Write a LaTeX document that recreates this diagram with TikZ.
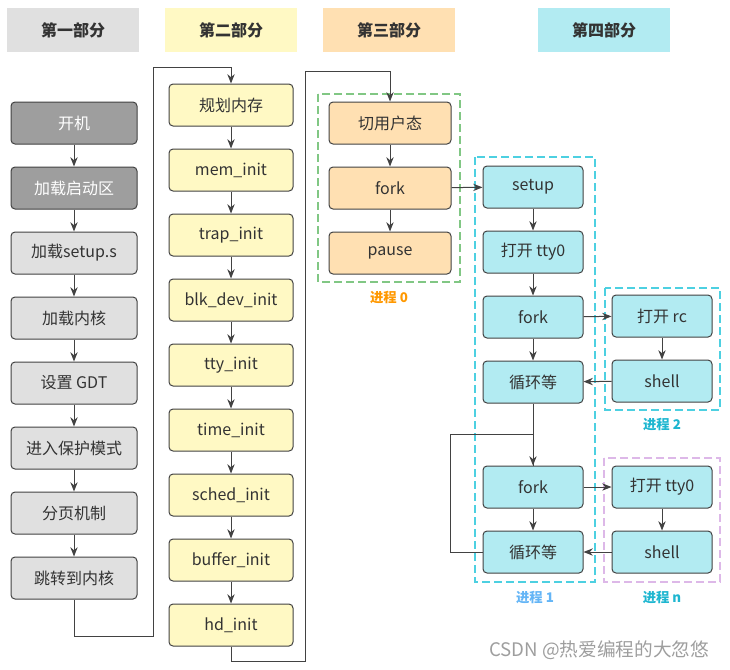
\documentclass[tikz,border=0pt]{standalone}
\usepackage{fontspec}
\setmainfont{Noto Sans CJK SC}
\usepackage{xcolor}
\usepackage{tikz}
\usetikzlibrary{shapes,arrows.meta,positioning}

\definecolor{headgray}{HTML}{E0E0E0}
\definecolor{headyellow}{HTML}{FFF9C4}
\definecolor{headorange}{HTML}{FFE0B2}
\definecolor{headcyan}{HTML}{B2EBF2}
\definecolor{darkbox}{HTML}{9E9E9E}
\definecolor{linegray}{HTML}{424242}
\definecolor{textgray}{HTML}{333333}
\definecolor{framegreen}{HTML}{81C784}
\definecolor{framecyan}{HTML}{4DD0E1}
\definecolor{framepurple}{HTML}{DDB8E8}
\definecolor{labelorange}{HTML}{FF9800}
\definecolor{labelblue}{HTML}{64B5F6}
\definecolor{labelcyan}{HTML}{1EB6D0}

\begin{document}
\begin{tikzpicture}[x=0.75pt, y=-0.75pt, node distance=48.75pt, >={Stealth[length=7pt,width=5.5pt]},
    head/.style={rectangle, minimum width=99pt, minimum height=33pt, text=textgray, font=\fontsize{12}{14}\selectfont\bfseries},
    box/.style={rectangle, rounded corners=3pt, draw=linegray, line width=0.75pt, minimum height=31.5pt, text=textgray, font=\fontsize{12}{14}\selectfont},
    boxA/.style={box, minimum width=94.5pt, fill=headgray},
    boxB/.style={box, minimum width=93pt, fill=headyellow},
    boxC/.style={box, minimum width=91.5pt, fill=headorange},
    boxD/.style={box, minimum width=75pt, fill=headcyan},
    line/.style={draw=linegray, line width=0.75pt},
    frame/.style={line width=1.5pt, dash pattern=on 6pt off 3pt},
    tag/.style={font=\fontsize{10}{12}\selectfont\bfseries}]
    \useasboundingbox (0,0) rectangle (730,669);

    % headers
    \node (head1) [head, fill=headgray] at (73,30) {第一部分};
    \node (head2) [head, fill=headyellow] at (231,30) {第二部分};
    \node (head3) [head, fill=headorange] at (389,30) {第三部分};
    \node (head4) [head, fill=headcyan] at (604,30) {第四部分};

    % part one
    \node (boot) [boxA, fill=darkbox, text=white] at (74,123) {开机};
    \node (loadboot) [boxA, fill=darkbox, text=white, below of=boot] {加载启动区};
    \node (loadsetup) [boxA, below of=loadboot] {加载setup.s};
    \node (loadkernel) [boxA, below of=loadsetup] {加载内核};
    \node (gdt) [boxA, below of=loadkernel] {设置 GDT};
    \node (protect) [boxA, below of=gdt] {进入保护模式};
    \node (paging) [boxA, below of=protect] {分页机制};
    \node (jump) [boxA, below of=paging] {跳转到内核};

    % part two
    \node (plan) [boxB] at (231,105) {规划内存};
    \node (meminit) [boxB, below of=plan] {mem\_init};
    \node (trapinit) [boxB, below of=meminit] {trap\_init};
    \node (blkinit) [boxB, below of=trapinit] {blk\_dev\_init};
    \node (ttyinit) [boxB, below of=blkinit] {tty\_init};
    \node (timeinit) [boxB, below of=ttyinit] {time\_init};
    \node (schedinit) [boxB, below of=timeinit] {sched\_init};
    \node (bufferinit) [boxB, below of=schedinit] {buffer\_init};
    \node (hdinit) [boxB, below of=bufferinit] {hd\_init};

    % part three
    \node (user) [boxC] at (390,123) {切用户态};
    \node (fork0) [boxC, below of=user] {fork};
    \node (pause) [boxC, below of=fork0] {pause};

    % part four
    \node (setup) [boxD] at (533,187) {setup};
    \node (tty1) [boxD, below of=setup] {打开 tty0};
    \node (fork1) [boxD, below of=tty1] {fork};
    \node (loop1) [boxD, below of=fork1] {循环等};
    \node (fork2) [boxD] at (533,487) {fork};
    \node (loop2) [boxD, below of=fork2] {循环等};
    \node (rc) [boxD] at (662,316) {打开 rc};
    \node (shell2) [boxD, below of=rc] {shell};
    \node (ttyn) [boxD] at (662,487) {打开 tty0};
    \node (shelln) [boxD, below of=ttyn] {shell};

    % process frames
    \draw[frame, framegreen] (318,94) rectangle (460,282);
    \draw[frame, framecyan] (475,157) rectangle (595,582);
    \draw[frame, framecyan] (605,288) rectangle (720,410);
    \draw[frame, framepurple] (604,458) rectangle (720,582);
    \node (tag0) [tag, text=labelorange] at (389,298) {进程 0};
    \node (tag1) [tag, text=labelblue] at (535,598) {进程 1};
    \node (tag2) [tag, text=labelcyan] at (662,425) {进程 2};
    \node (tagn) [tag, text=labelcyan] at (662,598) {进程 n};

    % arrows
    \draw[->, line] (boot) -- (loadboot);
    \draw[->, line] (loadboot) -- (loadsetup);
    \draw[->, line] (loadsetup) -- (loadkernel);
    \draw[->, line] (loadkernel) -- (gdt);
    \draw[->, line] (gdt) -- (protect);
    \draw[->, line] (protect) -- (paging);
    \draw[->, line] (paging) -- (jump);
    \draw[->, line] (plan) -- (meminit);
    \draw[->, line] (meminit) -- (trapinit);
    \draw[->, line] (trapinit) -- (blkinit);
    \draw[->, line] (blkinit) -- (ttyinit);
    \draw[->, line] (ttyinit) -- (timeinit);
    \draw[->, line] (timeinit) -- (schedinit);
    \draw[->, line] (schedinit) -- (bufferinit);
    \draw[->, line] (bufferinit) -- (hdinit);
    \draw[->, line] (user) -- (fork0);
    \draw[->, line] (fork0) -- (pause);
    \draw[->, line] (fork0) -- (setup);
    \draw[->, line] (setup) -- (tty1);
    \draw[->, line] (tty1) -- (fork1);
    \draw[->, line] (fork1) -- (loop1);
    \draw[->, line] (fork1) -- (rc);
    \draw[->, line] (rc) -- (shell2);
    \draw[->, line] (shell2) -- (loop1);
    \draw[->, line] (loop1) -- (fork2);
    \draw[->, line] (fork2) -- (loop2);
    \draw[->, line] (fork2) -- (ttyn);
    \draw[->, line] (ttyn) -- (shelln);
    \draw[->, line] (shelln) -- (loop2);

    % jumps between columns
    \coordinate (jumpA) at (153,636);
    \coordinate (jumpB) at (153,67);
    \draw[->, line] (jump.south) |- (jumpA) -- (jumpB) -| (plan.north);
    \coordinate (hdA) at (305,661);
    \coordinate (hdB) at (305,71);
    \draw[->, line] (hdinit.south) |- (hdA) -- (hdB) -| (user.north);
    \coordinate (loopA) at (450,434);
    \draw[line] (loop2.west) -| (loopA) -| (fork2.north);

    \node (mark) [text=darkbox, font=\fontsize{14}{16}\selectfont, anchor=east] at (714,650) {CSDN @热爱编程的大忽悠};
\end{tikzpicture}
\end{document}
